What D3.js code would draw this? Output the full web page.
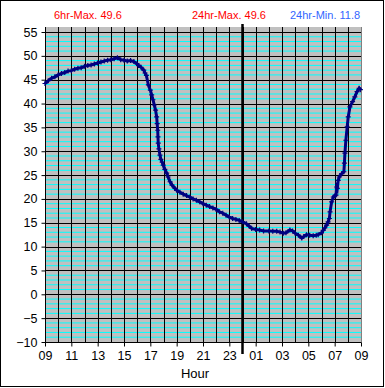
<!DOCTYPE html>
<html>
<head>
<meta charset="utf-8">
<title>Temperature 24hr</title>
<style>
  body { margin: 0; background: #fff; }
  text { font-family: "Liberation Sans", Arial, sans-serif; }
</style>
</head>
<body>
<script src="https://cdnjs.cloudflare.com/ajax/libs/d3/7.8.5/d3.min.js"></script>
<script>
// readings: hours after 09:00 and temperature
var hours = [0, 0.25, 0.5, 0.75, 1, 1.25, 1.5, 1.75, 2, 2.25, 2.5, 2.75, 3, 3.25, 3.5, 3.75,
  4, 4.25, 4.5, 4.75, 5, 5.25, 5.5, 5.75, 6, 6.25, 6.5, 6.75, 7, 7.1, 7.3, 7.5, 7.6, 7.7,
  7.85, 8.0, 8.1, 8.2, 8.3, 8.4, 8.48, 8.52, 8.56, 8.58, 8.6, 8.65, 8.73, 8.8, 8.9, 8.98,
  9.1, 9.24, 9.35, 9.5, 9.65, 9.87, 10, 10.25, 10.5, 10.75, 11, 11.25, 11.5, 11.75,
  12, 12.25, 12.5, 12.75, 13, 13.25, 13.5, 13.75, 14, 14.25, 14.5, 14.75, 15, 15.3, 15.5, 15.7,
  16, 16.3, 16.6, 17, 17.3, 17.6, 17.85, 18.1, 18.3, 18.6, 18.8, 19, 19.25, 19.5, 19.65,
  19.86, 20.1, 20.37, 20.6, 20.75, 21, 21.13, 21.25, 21.39, 21.5, 21.6, 21.65, 21.77, 21.9,
  22, 22.1, 22.15, 22.2, 22.27, 22.35, 22.53, 22.7, 22.74, 22.78, 22.85, 22.95, 23.03,
  23.16, 23.36, 23.53, 23.7, 23.86, 23.95];
var temps = [44.2, 44.8, 45.3, 45.6, 46.0, 46.3, 46.5, 46.8, 46.9, 47.2, 47.4, 47.5, 47.8, 48.0, 48.1, 48.3,
  48.5, 48.7, 48.9, 49.1, 49.2, 49.4, 49.6, 49.2, 49.1, 48.9, 49.0, 48.8, 48.3, 48.0, 47.6, 47.0, 46.4, 45.9,
  43.9, 42.8, 41.8, 40.8, 39.7, 38.6, 37.2, 35.8, 34.4, 33.0, 31.7, 30.5, 29.2, 28.3, 27.7, 27.1,
  26.2, 25.4, 24.6, 23.6, 22.9, 22.2, 21.8, 21.4, 21.0, 20.7, 20.4, 20.0, 19.7, 19.4,
  19.0, 18.7, 18.4, 18.1, 17.8, 17.3, 17.0, 16.6, 16.2, 15.9, 15.7, 15.5, 15.2, 14.8, 14.3, 13.8,
  13.6, 13.5, 13.3, 13.3, 13.2, 13.2, 13.05, 12.8, 12.9, 13.5, 13.3, 12.8, 12.4, 11.8, 12.1,
  12.5, 12.4, 12.3, 12.4, 12.5, 12.9, 13.4, 13.9, 14.5, 15.2, 15.9, 17.3, 19.4, 20.4,
  20.6, 20.8, 22.5, 22.2, 23.9, 24.6, 25.3, 25.7, 27.5, 29.6, 32.3, 35.1, 37.2,
  39.3, 40.4, 41.4, 42.5, 43.2, 42.9];

var xTickLabels = ["09", "11", "13", "15", "17", "19", "21", "23", "01", "03", "05", "07", "09"];
var yTicks = [-10, -5, 0, 5, 10, 15, 20, 25, 30, 35, 40, 45, 50, 55];
var headers = [
  {text: "6hr-Max. 49.6", x: 54, color: "#ff0000"},
  {text: "24hr-Max. 49.6", x: 192, color: "#ff0000"},
  {text: "24hr-Min. 11.8", x: 290, color: "#3366ff"}
];
var midnight = 15;

var W = 385, H = 388;
var pLeft = 45, pRight = 361, pTop = 27, pBottom = 342;

var svg = d3.select("body").append("svg")
  .attr("width", W)
  .attr("height", H);

// outer frame
svg.append("rect")
  .attr("x", 0.5).attr("y", 0.5)
  .attr("width", W - 2).attr("height", H - 2)
  .attr("fill", "#fff")
  .attr("stroke", "#000");

var x = d3.scaleLinear().domain([0, 24]).range([pLeft, pRight]);
var y = d3.scaleLinear().domain([-10, 56.05]).range([pBottom, pTop]);

// plot background
svg.append("rect")
  .attr("x", pLeft).attr("y", pTop)
  .attr("width", pRight - pLeft).attr("height", pBottom - pTop)
  .attr("fill", "#c0c0c0");

// minor horizontal grid (every degree)
svg.append("g").selectAll("line")
  .data(d3.range(-9, 56, 1).filter(function(d){ return d % 5 != 0; }))
  .enter().append("line")
  .attr("x1", pLeft).attr("x2", pRight)
  .attr("y1", function(d){ return y(d); })
  .attr("y2", function(d){ return y(d); })
  .attr("stroke", "#00ffff")
  .attr("stroke-width", 1);

// major horizontal grid
svg.append("g").selectAll("line")
  .data(yTicks)
  .enter().append("line")
  .attr("x1", pLeft).attr("x2", pRight)
  .attr("y1", function(d){ return Math.round(y(d)) + 0.5; })
  .attr("y2", function(d){ return Math.round(y(d)) + 0.5; })
  .attr("stroke", "#000");

// vertical grid every hour
svg.append("g").selectAll("line")
  .data(d3.range(1, 24))
  .enter().append("line")
  .attr("x1", function(d){ return Math.round(x(d)) + 0.5; })
  .attr("x2", function(d){ return Math.round(x(d)) + 0.5; })
  .attr("y1", pTop).attr("y2", pBottom)
  .attr("stroke", "#000");

// right edge of plot
svg.append("line")
  .attr("x1", pRight + 0.5).attr("x2", pRight + 0.5)
  .attr("y1", pTop).attr("y2", pBottom)
  .attr("stroke", "#808080");

// axes
var yAxis = d3.axisLeft(y).tickValues(yTicks).tickSize(4).tickPadding(4);
var gy = svg.append("g")
  .attr("transform", "translate(" + (pLeft + 0.5) + ",0)")
  .call(yAxis);
gy.select(".domain").attr("d", "M0," + pTop + "V" + (pBottom + 0.5));
gy.selectAll("text").style("font-size", "12.5px").attr("fill", "#000");

var xAxis = d3.axisBottom(x)
  .tickValues(d3.range(0, 25, 2))
  .tickFormat(function(d, i){ return xTickLabels[i]; })
  .tickSize(4).tickPadding(5);
var gx = svg.append("g")
  .attr("transform", "translate(0," + (pBottom + 0.5) + ")")
  .call(xAxis);
gx.select(".domain").attr("d", "M" + pLeft + ",0H" + (pRight + 0.5));
gx.selectAll("text").style("font-size", "12.5px").attr("fill", "#000");
svg.selectAll(".domain, .tick line").attr("stroke", "#000");

// midnight marker
svg.append("line")
  .attr("x1", x(midnight)).attr("x2", x(midnight))
  .attr("y1", 24).attr("y2", 354)
  .attr("stroke", "#000")
  .attr("stroke-width", 2.5);

// temperature line and markers
var pts = hours.map(function(h, i){ return [h, temps[i]]; });

svg.append("path")
  .datum(pts)
  .attr("fill", "none")
  .attr("stroke", "#000080")
  .attr("stroke-width", 3)
  .attr("d", d3.line()
    .x(function(d){ return x(d[0]); })
    .y(function(d){ return y(d[1]); }));

svg.append("g").selectAll("path")
  .data(pts)
  .enter().append("path")
  .attr("transform", function(d){ return "translate(" + x(d[0]) + "," + y(d[1]) + ")"; })
  .attr("d", "M-2.5,0H2.5M0,-2.5V2.5")
  .attr("stroke", "#000080")
  .attr("stroke-width", 1.2);

// header labels
svg.selectAll(".hdr")
  .data(headers)
  .enter().append("text")
  .attr("class", "hdr")
  .attr("x", function(d){ return d.x; })
  .attr("y", 19)
  .attr("fill", function(d){ return d.color; })
  .style("font-size", "11px")
  .text(function(d){ return d.text; });

svg.append("text")
  .attr("x", 195)
  .attr("y", 378)
  .attr("text-anchor", "middle")
  .style("font-size", "13px")
  .text("Hour");
</script>
</body>
</html>
